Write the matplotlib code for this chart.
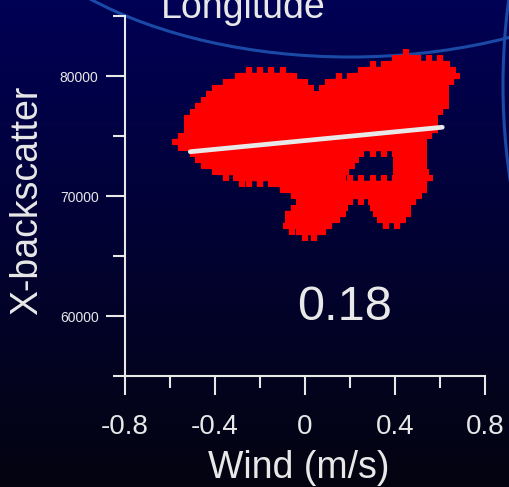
import matplotlib.pyplot as plt
import numpy as np
from matplotlib.patches import Ellipse

plt.rcParams['font.family'] = ['Liberation Sans', 'DejaVu Sans']

# wind / backscatter samples, grouped by backscatter level
scatter_levels = [81500, 81000, 80500, 80000, 79500, 79000, 78500, 78000,
                  77500, 77000, 76500, 76000, 75500, 75000, 74500, 74000,
                  73500, 73000, 72500, 72000, 71500, 71000, 70500, 70000,
                  69500, 69000, 68500, 68000, 67500, 67000]
scatter_winds = [
    [0.45],
    [0.40, 0.45, 0.50, 0.55, 0.60],
    [0.30, 0.35, 0.40, 0.45, 0.50, 0.55, 0.60, 0.63],
    [-0.25, -0.20, -0.15, -0.10, 0.25, 0.30, 0.35, 0.40, 0.45, 0.50, 0.55, 0.60, 0.65],
    [-0.30, -0.25, -0.20, -0.15, -0.10, -0.05, 0.15, 0.20, 0.25, 0.30, 0.35, 0.40,
     0.45, 0.50, 0.55, 0.60],
    [-0.35, -0.30, -0.25, -0.20, -0.15, -0.10, -0.05, 0.00, 0.10, 0.15, 0.20, 0.25,
     0.30, 0.35, 0.40, 0.45, 0.50, 0.55, 0.60],
    [-0.40, -0.35, -0.30, -0.25, -0.20, -0.15, -0.10, -0.05, 0.00, 0.10, 0.15, 0.20,
     0.25, 0.30, 0.35, 0.40, 0.45, 0.50, 0.55, 0.60],
    [-0.40, -0.35, -0.30, -0.25, -0.20, -0.15, -0.10, -0.05, 0.00, 0.05, 0.10, 0.15,
     0.20, 0.25, 0.30, 0.35, 0.40, 0.45, 0.50, 0.55, 0.60],
    [-0.45, -0.40, -0.35, -0.30, -0.25, -0.20, -0.15, -0.10, -0.05, 0.00, 0.05, 0.10,
     0.15, 0.20, 0.25, 0.30, 0.35, 0.40, 0.45, 0.50, 0.55, 0.60],
    [-0.45, -0.40, -0.35, -0.30, -0.25, -0.20, -0.15, -0.10, -0.05, 0.00, 0.05, 0.10,
     0.15, 0.20, 0.25, 0.30, 0.35, 0.40, 0.45, 0.50, 0.55],
    [-0.50, -0.45, -0.40, -0.35, -0.30, -0.25, -0.20, -0.15, -0.10, -0.05, 0.00, 0.05,
     0.10, 0.15, 0.20, 0.25, 0.30, 0.35, 0.40, 0.45, 0.50, 0.55],
    [-0.50, -0.45, -0.40, -0.35, -0.30, -0.25, -0.20, -0.15, -0.10, -0.05, 0.00, 0.05,
     0.10, 0.15, 0.20, 0.25, 0.30, 0.35, 0.40, 0.45, 0.50, 0.55],
    [-0.50, -0.45, -0.40, -0.35, -0.30, -0.25, -0.20, -0.15, -0.10, -0.05, 0.00, 0.05,
     0.10, 0.15, 0.20, 0.25, 0.30, 0.35, 0.40, 0.45, 0.50, 0.55],
    [-0.50, -0.45, -0.40, -0.35, -0.30, -0.25, -0.20, -0.15, -0.10, -0.05, 0.00, 0.05,
     0.10, 0.15, 0.20, 0.25, 0.30, 0.35, 0.40, 0.45, 0.50],
    [-0.55, -0.50, -0.45, -0.40, -0.35, -0.30, -0.25, -0.20, -0.15, -0.10, -0.05, 0.00,
     0.05, 0.10, 0.15, 0.20, 0.25, 0.30, 0.35, 0.40, 0.45, 0.50],
    [-0.50, -0.45, -0.40, -0.35, -0.30, -0.25, -0.20, -0.15, -0.10, -0.05, 0.00, 0.05,
     0.10, 0.15, 0.20, 0.25, 0.30, 0.35, 0.40, 0.45, 0.50],
    [-0.45, -0.40, -0.35, -0.30, -0.25, -0.20, -0.15, -0.10, -0.05, 0.00, 0.05, 0.10,
     0.15, 0.20, 0.43, 0.47, 0.50],
    [-0.45, -0.40, -0.35, -0.30, -0.25, -0.20, -0.15, -0.10, -0.05, 0.00, 0.05, 0.10,
     0.15, 0.20, 0.43, 0.47, 0.50],
    [-0.40, -0.35, -0.30, -0.25, -0.20, -0.15, -0.10, -0.05, 0.00, 0.05, 0.10, 0.15,
     0.18, 0.43, 0.47, 0.50],
    [-0.35, -0.30, -0.25, -0.20, -0.15, -0.10, -0.05, 0.00, 0.05, 0.10, 0.15,
     0.43, 0.47, 0.51],
    [-0.28, -0.25, -0.20, -0.15, -0.10, -0.05, 0.00, 0.05, 0.10, 0.14,
     0.43, 0.47, 0.51, 0.53],
    [-0.10, -0.05, 0.00, 0.05, 0.10, 0.15, 0.20, 0.25, 0.30, 0.35, 0.40, 0.45, 0.50],
    [-0.05, 0.00, 0.05, 0.10, 0.15, 0.20, 0.25, 0.30, 0.35, 0.40, 0.45, 0.50],
    [0.00, 0.05, 0.10, 0.15, 0.20, 0.25, 0.30, 0.35, 0.40, 0.45, 0.48],
    [0.00, 0.05, 0.10, 0.15, 0.32, 0.36, 0.40, 0.45],
    [0.00, 0.05, 0.10, 0.15, 0.33, 0.38, 0.43],
    [-0.05, 0.00, 0.05, 0.10, 0.14, 0.34, 0.39, 0.43],
    [-0.05, 0.00, 0.05, 0.10, 0.36, 0.41],
    [-0.06, 0.00, 0.05, 0.08],
    [0.00, 0.04],
]

# least-squares fit line and its correlation
fit_wind = [-0.51, 0.61]
fit_backscatter = [73690, 75730]
corr_label = '0.18'

x_ticks = [-0.8, -0.4, 0, 0.4, 0.8]
x_tick_labels = ['-0.8', '-0.4', '0', '0.4', '0.8']
x_minor = [-0.6, -0.2, 0.2, 0.6]
y_ticks = [60000, 70000, 80000]
y_tick_labels = ['60000', '70000', '80000']
y_minor = [55000, 65000, 75000, 85000]

W, H = 509, 487
fg = '#e8e8e8'
arc_color = '#1a4aa6'

fig = plt.figure(figsize=(W / 100, H / 100), dpi=100)

# slide-style backdrop: vertical navy gradient with two arcs
bg = fig.add_axes([0, 0, 1, 1], zorder=0)
top = np.array([0x00, 0x00, 0x55]) / 255
bottom = np.array([0x04, 0x04, 0x10]) / 255
t = np.linspace(0, 1, 256)[:, None, None]
bg.imshow(top + (bottom - top) * t, extent=[0, W, H, 0], aspect='auto')
bg.add_patch(Ellipse((350, -143), 738, 400, fill=False, ec=arc_color, lw=2.2))
bg.add_patch(Ellipse((1143, 85), 1280, 1280, fill=False, ec=arc_color, lw=2.2))
bg.set_xlim(0, W)
bg.set_ylim(H, 0)
bg.axis('off')

ax = fig.add_axes([125 / W, (H - 376) / H, 360 / W, 360 / H], zorder=1)
ax.set_facecolor('none')
ax.set_xlim(-0.8, 0.8)
ax.set_ylim(55000, 85000)

xs = [w for lvl, ws in zip(scatter_levels, scatter_winds) for w in ws]
ys = [lvl for lvl, ws in zip(scatter_levels, scatter_winds) for w in ws]
ax.plot(xs, ys, ls='none', marker='+', ms=13, mew=4.5, color='#ff0000')
ax.plot(fit_wind, fit_backscatter, color=fg, lw=3.4, solid_capstyle='round')

ax.text(0.175, 59670, corr_label, ha='center', va='baseline', fontsize=35, color=fg)

for side in ['top', 'right']:
    ax.spines[side].set_visible(False)
for side in ['left', 'bottom']:
    ax.spines[side].set_color(fg)
    ax.spines[side].set_linewidth(1.5)

ax.set_xticks(x_ticks)
ax.set_xticklabels(x_tick_labels)
ax.set_xticks(x_minor, minor=True)
ax.set_yticks(y_ticks)
ax.set_yticklabels(y_tick_labels)
ax.set_yticks(y_minor, minor=True)
ax.tick_params(which='both', direction='out', width=1.5, color=fg, labelcolor=fg)
ax.tick_params(which='major', length=14)
ax.tick_params(which='minor', length=8.3)
ax.tick_params(axis='x', which='major', labelsize=20, pad=13)
ax.tick_params(axis='y', which='major', labelsize=10, pad=5)

ax.set_xlabel('Wind (m/s)', fontsize=27, color=fg, va='baseline')
ax.xaxis.set_label_coords((299 - 125) / 360, (376 - 478) / 360)
ax.set_ylabel('X-backscatter', fontsize=27, color=fg, va='center')
ax.yaxis.set_label_coords((27 - 125) / 360, (376 - 200) / 360)
ax.set_title('Longitude', fontsize=27, color=fg, x=(243.5 - 125) / 360,
             y=(376 - 18) / 360, pad=0)

plt.savefig('out.png', dpi=100)
